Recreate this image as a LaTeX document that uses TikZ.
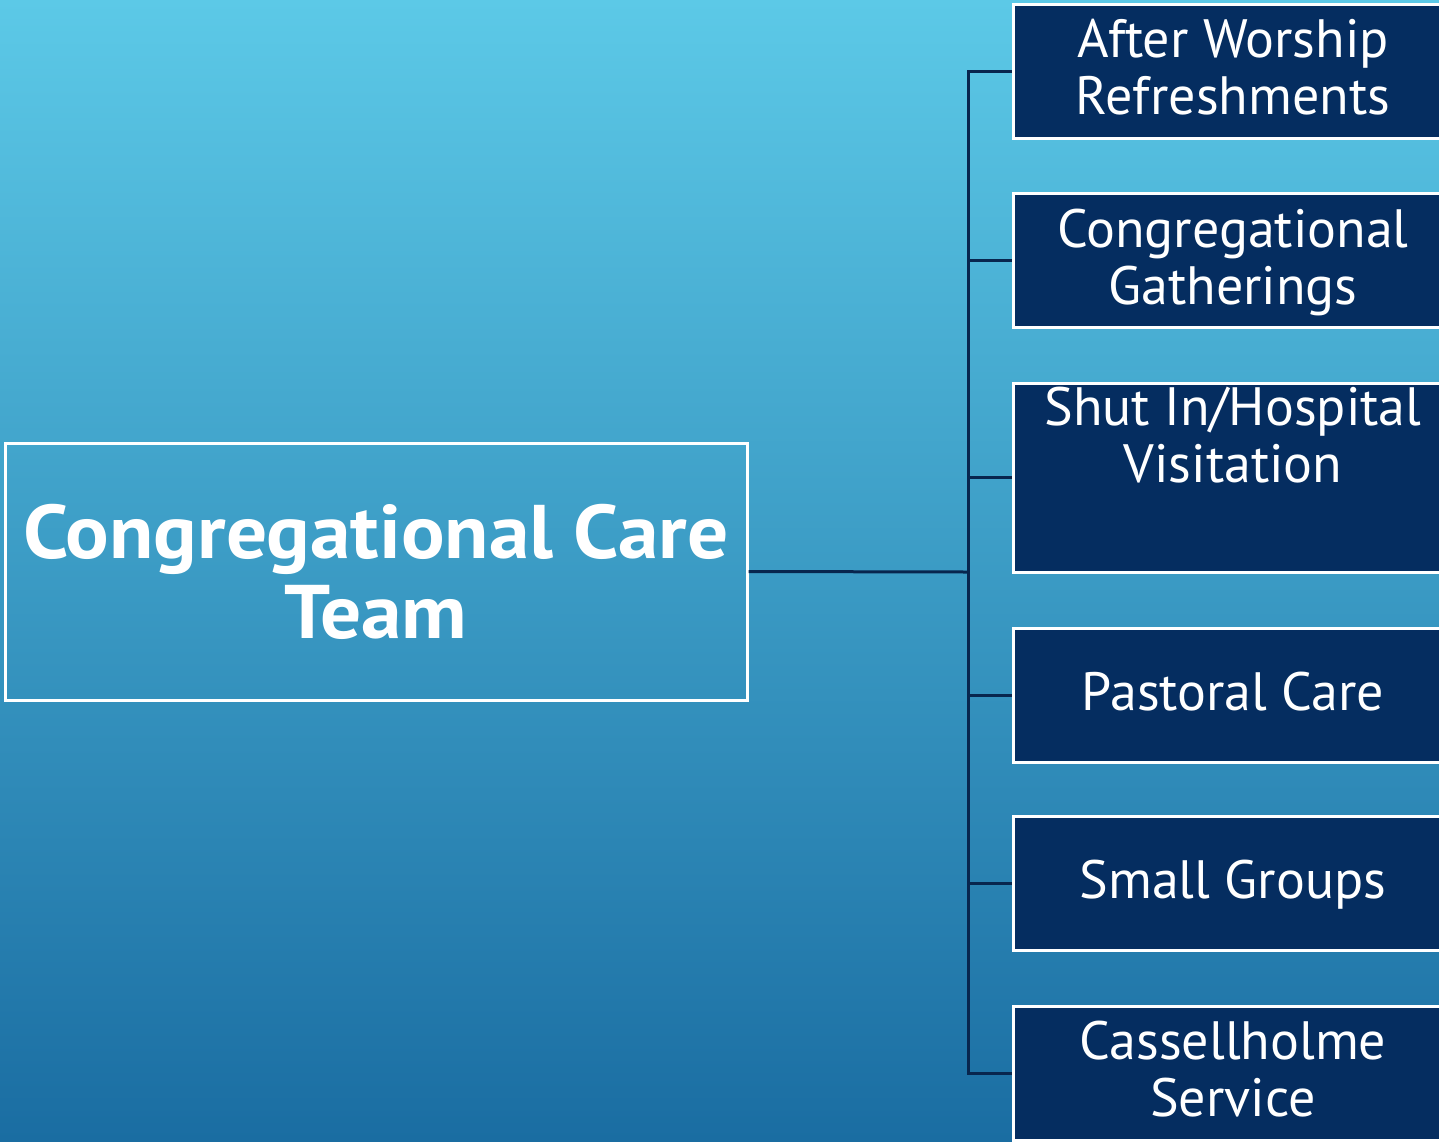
\documentclass[tikz,border=0pt]{standalone}
\usepackage{fontspec}
\setmainfont{PT Sans}
\newfontfamily\titlefont[FakeStretch=1.07]{PT Sans}
\definecolor{myTop}{RGB}{92,201,231}
\definecolor{myBottom}{RGB}{26,109,162}
\definecolor{myNavy}{RGB}{5,45,96}
\definecolor{myLine}{RGB}{8,38,78}

\begin{document}
\begin{tikzpicture}[%
    x=0.5pt, y=-0.5pt,
    every node/.style={
        text=white,
        align=center,
        inner sep=0pt,
    },
    teamBox/.style={
        draw=white, line width=1.5pt,
        minimum width=371pt, minimum height=128.5pt,
        font={\titlefont\bfseries\fontsize{38}{40}\selectfont},
    },
    subBox/.style={
        draw=white, fill=myNavy, line width=1.5pt,
        minimum width=220pt, minimum height=67pt,
        text depth=4pt,
        font={\fontsize{27}{28.5}\selectfont},
    },
    branch/.style={draw=myLine, line width=1.5pt},
]
% place background
\useasboundingbox (0,0) rectangle (1439,1141);
\clip (0,0) rectangle (1439,1141);
\shade[top color=myTop, bottom color=myBottom] (0,0) rectangle (1439,1141);

% place team box
\node[teamBox] (team) at (376,571.5) {Congregational Care\\Team};

% place sub boxes
\node[subBox] (refresh) at (1233,71) {After Worship\\Refreshments};
\node[subBox] (gather) at (1233,260.5) {Congregational\\Gatherings};
\node[subBox, minimum height=94.5pt] (visit) at (1233,477.5) {Shut In/Hospital\\Visitation\\[10pt]\mbox{}};
\node[subBox] (pastoral) at (1233,695) {Pastoral Care};
\node[subBox] (groups) at (1233,883.5) {Small Groups};
\node[subBox] (cassell) at (1233,1073) {Cassellholme\\Service};

% draw branch lines
\coordinate (split) at (968,572);
\draw[branch] (team.east) -- (split);
\foreach \n in {refresh,gather,visit,pastoral,groups,cassell} {
    \draw[branch] (split) |- (\n.west);
}

\end{tikzpicture}
\end{document}
